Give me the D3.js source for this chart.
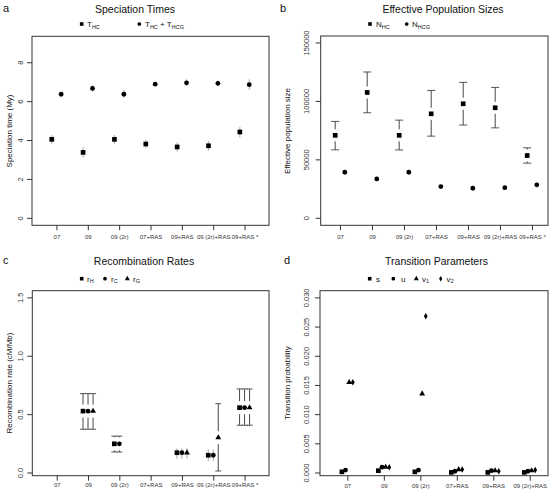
<!DOCTYPE html>
<html><head><meta charset="utf-8">
<script src="https://cdn.jsdelivr.net/npm/d3@7"></script>
<style>body{margin:0;background:#fff} svg{font-family:"Liberation Sans",Arial,Helvetica,sans-serif}</style>
</head><body><svg id="c" width="558" height="496"></svg>
<script>
// ---------- data ----------
const cats7 = ["07","09","09 (2r)","07+RAS","09+RAS","09 (2r)+RAS","09+RAS *"];
const cats6 = ["07","09","09 (2r)","07+RAS","09+RAS","09 (2r)+RAS"];

const tHC    = [4.06,3.39,4.06,3.82,3.67,3.73,4.44];
const tHClo  = [3.83,3.12,3.83,3.60,3.43,3.48,4.15];
const tHChi  = [4.28,3.65,4.28,4.05,3.90,3.97,4.70];
const tHCG   = [6.38,6.68,6.38,6.90,6.97,6.94,6.87];
const tHCGlo = [6.30,6.50,6.20,6.80,6.80,6.78,6.60];
const tHCGhi = [6.45,6.85,6.60,7.00,7.15,7.10,7.15];
const ticksA = [0,2,4,6,8];

const nHC    = [71000,107700,71000,89400,98000,94600,53700];
const nHClo  = [58600,90300,58500,70300,79800,77400,47200];
const nHChi  = [82900,125200,84000,109400,116300,112000,60300];
const nHCG   = [39400,33700,39400,27100,25700,26200,28600];
const nHCGlo = [37800,31700,37600,25800,23800,24500,26500];
const nHCGhi = [41000,35700,41200,28400,27600,28000,30700];
const ticksB = [0,50000,100000,150000];

const rH   = [null,0.53,0.25,null,0.174,0.152,0.56];
const rHlo = [null,0.375,0.18,null,0.122,0.103,0.409];
const rHhi = [null,0.68,0.316,null,0.212,0.203,0.72];
const rC   = [null,0.53,0.25,null,0.174,0.152,0.56];
const rClo = [null,0.375,0.18,null,0.122,0.103,0.409];
const rChi = [null,0.68,0.316,null,0.212,0.203,0.72];
const rG   = [null,0.53,null,null,0.174,0.303,0.56];
const rGlo = [null,0.375,null,null,0.122,0.017,0.409];
const rGhi = [null,0.68,null,null,0.212,0.594,0.72];
const ticksC = [0,0.5,1.0,1.5];

const pS  = [0.0002,0.0004,0.0002,0.0001,0.0001,0.0001];
const pU  = [0.0005,0.0010,0.0005,0.0003,0.0004,0.0003];
const pV1 = [0.01554,0.0010,0.01358,0.0006,0.0004,0.0004];
const pV2 = [0.01554,0.0010,0.02684,0.0006,0.0003,0.0005];
const ticksD = [0,0.005,0.010,0.015,0.020,0.025,0.030];

// ---------- drawing ----------
const svg = d3.select("#c");
const AX = "#333";

const SIZES = {square:22, circle:18, triangle:15, diamond:12};
const LSIZES = {square:13, circle:11, triangle:11, diamond:9};
const TYPES = {square:d3.symbolSquare, circle:d3.symbolCircle, triangle:d3.symbolTriangle, diamond:d3.symbolDiamond};
function symbolPath(kind, legend){
  return d3.symbol(TYPES[kind], (legend?LSIZES:SIZES)[kind])();
}

function panel(o){
  const g = svg.append("g");
  const x = d3.scaleLinear().domain(o.xdom).range([o.box[0], o.box[2]]);
  const y = d3.scaleLinear().domain(o.ydom).range(o.yrange);
  g.append("rect").attr("x",o.box[0]).attr("y",o.box[1])
    .attr("width",o.box[2]-o.box[0]).attr("height",o.box[3]-o.box[1])
    .attr("fill","none").attr("stroke",AX).attr("stroke-width",1);
  // y axis
  const ya = g.append("g").attr("transform",`translate(${o.box[0]},0)`)
    .call(d3.axisLeft(y).tickValues(o.yticks).tickSize(5).tickFormat(o.yfmt));
  ya.select(".domain").remove();
  ya.selectAll("line").attr("stroke",AX);
  ya.selectAll(".tick").attr("transform","translate(0,0)");
  ya.selectAll(".tick line").attr("y1",d=>y(d)).attr("y2",d=>y(d));
  ya.selectAll("text").attr("fill",AX).style("font-size","7.5px")
    .attr("x",0).attr("y",0).attr("dy",0)
    .attr("transform",d=>`translate(${o.ylabX-o.box[0]},${y(d)}) rotate(-90)`)
    .attr("text-anchor","middle").attr("dominant-baseline","middle");
  // x axis
  const xa = g.append("g").attr("transform",`translate(0,${o.box[3]})`)
    .call(d3.axisBottom(x).tickValues(o.cats.map((c,i)=>i+1)).tickSize(5).tickFormat(d=>o.cats[d-1]));
  xa.select(".domain").remove();
  xa.selectAll("line").attr("stroke",AX);
  xa.selectAll("text").attr("fill",AX).style("font-size","6px").attr("y",o.xlabY-o.box[3]).attr("dy",0);
  // titles
  g.append("text").attr("x",o.titleX).attr("y",o.titleY).attr("text-anchor","middle")
    .style("font-size","10.5px").attr("fill","#111").text(o.title);
  g.append("text").attr("x",o.letterX).attr("y",o.titleY-1).style("font-size","11px").attr("fill","#111").text(o.letter);
  g.append("text").attr("transform",`translate(${o.ytitleX},${o.ytitleY}) rotate(-90)`)
    .attr("text-anchor","middle").style("font-size","8px").attr("fill","#111").text(o.ytitle);
  // series
  o.series.forEach(s=>{
    s.v.forEach((v,i)=>{
      if(v==null) return;
      const px = x(i+1+s.off), py = y(v);
      if(s.lo && s.lo[i]!=null){
        const yl = y(s.lo[i]), yh = y(s.hi[i]);
        const half = Math.max(Math.abs(py-yh), Math.abs(yl-py));
        if(half < 7){
          g.append("line").attr("x1",px).attr("x2",px).attr("y1",yl).attr("y2",yh)
            .attr("stroke","#aaa").attr("stroke-width",1);
        } else {
          const gap = o.gap;
          [[yh, py-gap],[yl, py+gap]].forEach(([end,start])=>{
            if((end<py && start>end) || (end>py && start<end))
              g.append("line").attr("x1",px).attr("x2",px).attr("y1",start).attr("y2",end)
                .attr("stroke","#333").attr("stroke-width",0.9);
            g.append("line").attr("x1",px-o.cap).attr("x2",px+o.cap).attr("y1",end).attr("y2",end)
              .attr("stroke","#444").attr("stroke-width",0.9);
          });
        }
      }
      g.append("path").attr("d",symbolPath(s.kind)).attr("transform",`translate(${px},${py})`).attr("fill","#000");
    });
  });
  // legend
  o.legend.forEach(l=>{
    g.append("path").attr("d",symbolPath(l.kind,true)).attr("transform",`translate(${l.sx},${o.legY})`)
      .attr("fill","#000");
    const t = g.append("text").attr("x",l.tx).attr("y",o.legY+3).style("font-size","8px").attr("fill","#111");
    l.parts.forEach(p=>{
      if(p[1]) t.append("tspan").text(p[0]).style("font-size","5.5px").attr("dy",1.5);
      else t.append("tspan").text(p[0]).attr("dy",p[2]||0);
    });
  });
}

panel({letter:"a", letterX:3, title:"Speciation Times", titleX:135, titleY:13,
  box:[32,36.3,269,225.3], xdom:[0.22,7.78], ydom:[-0.36,9.36], yrange:[225.3,36.3],
  yticks:ticksA, yfmt:d3.format("d"), ylabX:21, xlabY:239, cats:cats7,
  ytitle:"Speciation time (My)", ytitleX:12, ytitleY:131, gap:6, cap:3.5, legY:24,
  series:[{v:tHC,lo:tHClo,hi:tHChi,kind:"square",off:-0.15},{v:tHCG,lo:tHCGlo,hi:tHCGhi,kind:"circle",off:0.15}],
  legend:[{kind:"square",sx:81.7,tx:87,parts:[["T"],["HC",1]]},
          {kind:"circle",sx:139.3,tx:145,parts:[["T"],["HC",1],[" + T",0,-1.5],["HCG",1]]}]});

panel({letter:"b", letterX:280, title:"Effective Population Sizes", titleX:443, titleY:13,
  box:[320.7,36,548,225.3], xdom:[0.397,7.5], ydom:[-6000,156000], yrange:[225.3,36],
  yticks:ticksB, yfmt:d3.format("d"), ylabX:307, xlabY:239, cats:cats7,
  ytitle:"Effective population size", ytitleX:290, ytitleY:131, gap:6, cap:4, legY:24,
  series:[{v:nHC,lo:nHClo,hi:nHChi,kind:"square",off:-0.15},{v:nHCG,lo:nHCGlo,hi:nHCGhi,kind:"circle",off:0.15}],
  legend:[{kind:"square",sx:370,tx:376,parts:[["N"],["HC",1]]},
          {kind:"circle",sx:406.7,tx:412,parts:[["N"],["HCG",1]]}]});

panel({letter:"c", letterX:3, title:"Recombination Rates", titleX:144, titleY:265,
  box:[32.3,290.7,269,475.7], xdom:[0.22,7.78], ydom:[0,1.5], yrange:[473,297.9],
  yticks:ticksC, yfmt:d3.format(".1f"), ylabX:21, xlabY:487, cats:cats7,
  ytitle:"Recombination rate (cM/Mb)", ytitleX:12, ytitleY:383, gap:6.5, cap:3, legY:278.7,
  series:[{v:rH,lo:rHlo,hi:rHhi,kind:"square",off:-0.16},{v:rC,lo:rClo,hi:rChi,kind:"circle",off:0},
          {v:rG,lo:rGlo,hi:rGhi,kind:"triangle",off:0.16}],
  legend:[{kind:"square",sx:81.7,tx:87,parts:[["r"],["H",1]]},
          {kind:"circle",sx:105,tx:111,parts:[["r"],["C",1]]},
          {kind:"triangle",sx:127.3,tx:133,parts:[["r"],["G",1]]}]});

panel({letter:"d", letterX:284, title:"Transition Parameters", titleX:436.5, titleY:265,
  box:[320,290.7,548,475.7], xdom:[0.25,6.5], ydom:[0,0.03], yrange:[473,297.9],
  yticks:ticksD, yfmt:d3.format(".3f"), ylabX:307, xlabY:488, cats:cats6,
  ytitle:"Transition probability", ytitleX:290, ytitleY:383, gap:6, cap:3, legY:278.7,
  series:[{v:pS,kind:"square",off:-0.15},{v:pU,kind:"circle",off:-0.05},
          {v:pV1,kind:"triangle",off:0.05},{v:pV2,kind:"diamond",off:0.15}],
  legend:[{kind:"square",sx:369.7,tx:376,parts:[["s"]]},
          {kind:"circle",sx:393.3,tx:401,parts:[["u"]]},
          {kind:"triangle",sx:416.3,tx:422,parts:[["v"],["1",1]]},
          {kind:"diamond",sx:440.7,tx:446.5,parts:[["v"],["2",1]]}]});
</script></body></html>
